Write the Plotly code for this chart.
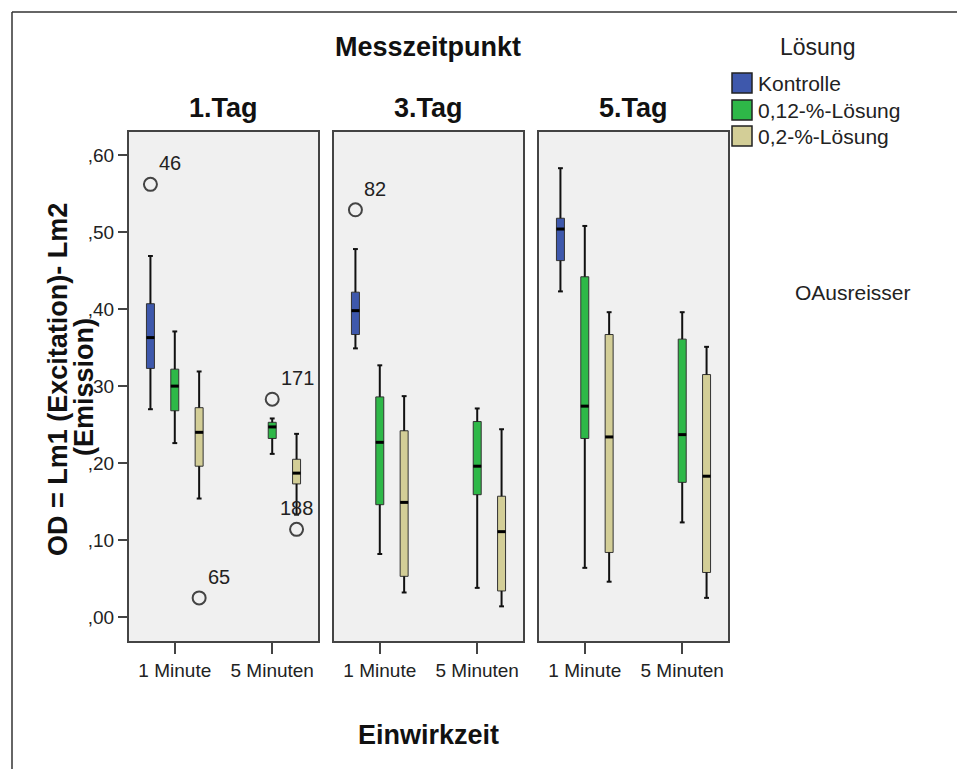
import plotly.graph_objects as go

W, H = 957, 769


def px(x):
    return x / W


def py(y):
    return 1 - y / H


# ---------------- data ----------------
days = ["1.Tag", "3.Tag", "5.Tag"]
times = ["1 Minute", "5 Minuten"]
groups = ["Kontrolle", "0,12-%-Lösung", "0,2-%-Lösung"]

# order of every list: 1.Tag/1 Minute, 1.Tag/5 Minuten, 3.Tag/1 Minute,
#                      3.Tag/5 Minuten, 5.Tag/1 Minute, 5.Tag/5 Minuten
kontrolle_low = [0.270, None, 0.349, None, 0.423, None]
kontrolle_q1 = [0.323, None, 0.367, None, 0.463, None]
kontrolle_median = [0.363, None, 0.398, None, 0.504, None]
kontrolle_q3 = [0.407, None, 0.422, None, 0.518, None]
kontrolle_high = [0.469, None, 0.478, None, 0.583, None]

l012_low = [0.226, 0.212, 0.082, 0.038, 0.064, 0.123]
l012_q1 = [0.268, 0.232, 0.146, 0.159, 0.232, 0.175]
l012_median = [0.300, 0.247, 0.227, 0.196, 0.274, 0.237]
l012_q3 = [0.322, 0.253, 0.286, 0.254, 0.442, 0.361]
l012_high = [0.371, 0.258, 0.327, 0.271, 0.508, 0.396]

l02_low = [0.154, 0.133, 0.032, 0.014, 0.046, 0.025]
l02_q1 = [0.196, 0.173, 0.053, 0.034, 0.084, 0.058]
l02_median = [0.240, 0.187, 0.149, 0.111, 0.234, 0.183]
l02_q3 = [0.272, 0.205, 0.242, 0.157, 0.367, 0.315]
l02_high = [0.319, 0.238, 0.287, 0.244, 0.396, 0.351]

outlier_group = ["Kontrolle", "Kontrolle", "0,12-%-Lösung", "0,2-%-Lösung", "0,2-%-Lösung"]
outlier_day = ["1.Tag", "3.Tag", "1.Tag", "1.Tag", "1.Tag"]
outlier_time = ["1 Minute", "1 Minute", "5 Minuten", "1 Minute", "5 Minuten"]
outlier_value = [0.562, 0.529, 0.283, 0.025, 0.114]
outlier_id = ["46", "82", "171", "65", "188"]

y_tick_values = [0.0, 0.1, 0.2, 0.3, 0.4, 0.5, 0.6]
y_tick_labels = [",00", ",10", ",20", ",30", ",40", ",50", ",60"]

# ---------------- style ----------------
FONT = "Liberation Sans, Arial, sans-serif"
colors = {"Kontrolle": "#3E58AC", "0,12-%-Lösung": "#2EB848", "0,2-%-Lösung": "#D3CE97"}
offsets = {"Kontrolle": -0.25, "0,12-%-Lösung": 0.0, "0,2-%-Lösung": 0.25}
stats = {
    "Kontrolle": (kontrolle_low, kontrolle_q1, kontrolle_median, kontrolle_q3, kontrolle_high),
    "0,12-%-Lösung": (l012_low, l012_q1, l012_median, l012_q3, l012_high),
    "0,2-%-Lösung": (l02_low, l02_q1, l02_median, l02_q3, l02_high),
}
BOX_W = 0.082
CAP_W = 0.05
x_domains = [(129, 318), (334, 523), (539, 728)]
Y_TOP, Y_BOT = 132, 641
Y_RANGE = [-0.031, 0.630]
X_RANGE = [-0.47, 1.47]
label_anchor = {"188": ("center", 0)}

fig = go.Figure()

for d_i, day in enumerate(days):
    xa = "x" if d_i == 0 else f"x{d_i + 1}"
    ya = "y" if d_i == 0 else f"y{d_i + 1}"
    for g in groups:
        low, q1, med, q3, high = stats[g]
        xs, q1s, meds, q3s = [], [], [], []
        wx, wy, mx, my = [], [], [], []
        for t_i, t in enumerate(times):
            k = d_i * 2 + t_i
            if q1[k] is None:
                continue
            pos = t_i + offsets[g]
            xs.append(pos)
            q1s.append(q1[k])
            meds.append(med[k])
            q3s.append(q3[k])
            # whiskers + caps
            wx += [pos, pos, None, pos - CAP_W / 2, pos + CAP_W / 2, None,
                   pos, pos, None, pos - CAP_W / 2, pos + CAP_W / 2, None]
            wy += [q3[k], high[k], None, high[k], high[k], None,
                   q1[k], low[k], None, low[k], low[k], None]
            mx += [pos - BOX_W / 2, pos + BOX_W / 2, None]
            my += [med[k], med[k], None]
        if not xs:
            continue
        fig.add_trace(go.Scatter(x=wx, y=wy, mode="lines",
                                 line=dict(color="#111111", width=2),
                                 xaxis=xa, yaxis=ya, showlegend=False, hoverinfo="skip"))
        fig.add_trace(go.Box(x=xs, q1=q1s, median=meds, q3=q3s,
                             lowerfence=q1s, upperfence=q3s,
                             width=BOX_W, whiskerwidth=0, boxpoints=False,
                             fillcolor=colors[g], line=dict(color="#333333", width=1),
                             xaxis=xa, yaxis=ya, showlegend=False, name=g,
                             hoverinfo="skip"))
        fig.add_trace(go.Scatter(x=mx, y=my, mode="lines",
                                 line=dict(color="#000000", width=3),
                                 xaxis=xa, yaxis=ya, showlegend=False, hoverinfo="skip"))

# outliers
annotations = []
for g, d, t, v, lab in zip(outlier_group, outlier_day, outlier_time, outlier_value, outlier_id):
    d_i = days.index(d)
    xa = "x" if d_i == 0 else f"x{d_i + 1}"
    ya = "y" if d_i == 0 else f"y{d_i + 1}"
    pos = times.index(t) + offsets[g]
    fig.add_trace(go.Scatter(x=[pos], y=[v], mode="markers",
                             marker=dict(symbol="circle-open", size=13,
                                         line=dict(color="#444444", width=2), color="#444444"),
                             xaxis=xa, yaxis=ya, showlegend=False, hoverinfo="skip"))
    anchor, xs_ = label_anchor.get(lab, ("left", 7))
    annotations.append(dict(x=pos, y=v, xref=xa, yref=ya, text=lab, showarrow=False,
                            xanchor=anchor, yanchor="middle", xshift=xs_, yshift=21,
                            font=dict(size=20, color="#222222", family=FONT)))

layout = dict(
    width=W, height=H, margin=dict(l=0, r=0, t=0, b=0),
    paper_bgcolor="white", plot_bgcolor="#F0F0F0",
    font=dict(family=FONT, color="#222222", size=20),
    showlegend=False,
)

for i, (x0, x1) in enumerate(x_domains):
    xk = "xaxis" if i == 0 else f"xaxis{i + 1}"
    yk = "yaxis" if i == 0 else f"yaxis{i + 1}"
    yanchor = "y" if i == 0 else f"y{i + 1}"
    xanchor = "x" if i == 0 else f"x{i + 1}"
    layout[xk] = dict(domain=[px(x0), px(x1)], range=X_RANGE, anchor=yanchor,
                      tickvals=[0, 1], ticktext=times, ticks="outside", ticklen=11,
                      tickwidth=2, tickcolor="#444444", showline=True, mirror=True,
                      linecolor="#444444", linewidth=2, showgrid=False, zeroline=False,
                      tickfont=dict(size=19, color="#222222"), fixedrange=True)
    ydict = dict(domain=[py(Y_BOT), py(Y_TOP)], range=Y_RANGE, anchor=xanchor,
                 showline=True, mirror=True, linecolor="#444444", linewidth=2,
                 showgrid=False, zeroline=False, fixedrange=True)
    if i == 0:
        ydict.update(tickvals=y_tick_values, ticktext=y_tick_labels, ticks="outside",
                     ticklen=9, tickwidth=2, tickcolor="#444444",
                     tickfont=dict(size=19, color="#222222"))
    else:
        ydict.update(matches="y", showticklabels=False, ticks="")
    layout[yk] = ydict

BOLD = dict(size=27, color="#111111", family=FONT)
annotations += [
    dict(x=px(428), y=py(47), text="<b>Messzeitpunkt</b>", font=BOLD),
    dict(x=px(223.5), y=py(108), text="<b>1.Tag</b>", font=BOLD),
    dict(x=px(428.5), y=py(108), text="<b>3.Tag</b>", font=BOLD),
    dict(x=px(633.5), y=py(108), text="<b>5.Tag</b>", font=BOLD),
    dict(x=px(428), y=py(735), text="<b>Einwirkzeit</b>", font=BOLD),
    dict(x=px(58), y=py(380), text="<b>OD = Lm1 (Excitation)- Lm2</b>", textangle=-90, font=BOLD),
    dict(x=px(84), y=py(387), text="<b>(Emission)</b>", textangle=-90, font=BOLD),
    dict(x=px(817), y=py(47), text="Lösung", font=dict(size=23, color="#222222", family=FONT)),
    dict(x=px(793), y=py(292), text="OAusreisser", xanchor="left",
         font=dict(size=21, color="#222222", family=FONT)),
]
for a in annotations:
    a.setdefault("xref", "paper")
    a.setdefault("yref", "paper")
    a.setdefault("showarrow", False)
    a.setdefault("xanchor", "center")
    a.setdefault("yanchor", "middle")

shapes = [
    dict(type="line", xref="paper", yref="paper", x0=px(12), x1=1.0, y0=py(12), y1=py(12),
         line=dict(color="#333333", width=1.5)),
    dict(type="line", xref="paper", yref="paper", x0=px(12), x1=px(12), y0=py(12), y1=0.0,
         line=dict(color="#333333", width=1.5)),
]
legend_centers = [83, 110, 136]
for g, yc in zip(groups, legend_centers):
    shapes.append(dict(type="rect", xref="paper", yref="paper",
                       x0=px(732), x1=px(752), y0=py(yc + 10), y1=py(yc - 10),
                       fillcolor=colors[g], line=dict(color="#222222", width=1.5)))
    annotations.append(dict(x=px(756), y=py(yc), xref="paper", yref="paper", text=g,
                            showarrow=False, xanchor="left", yanchor="middle",
                            font=dict(size=21, color="#222222", family=FONT)))

layout["annotations"] = annotations
layout["shapes"] = shapes
fig.update_layout(**layout)
fig.write_html("out.html")
